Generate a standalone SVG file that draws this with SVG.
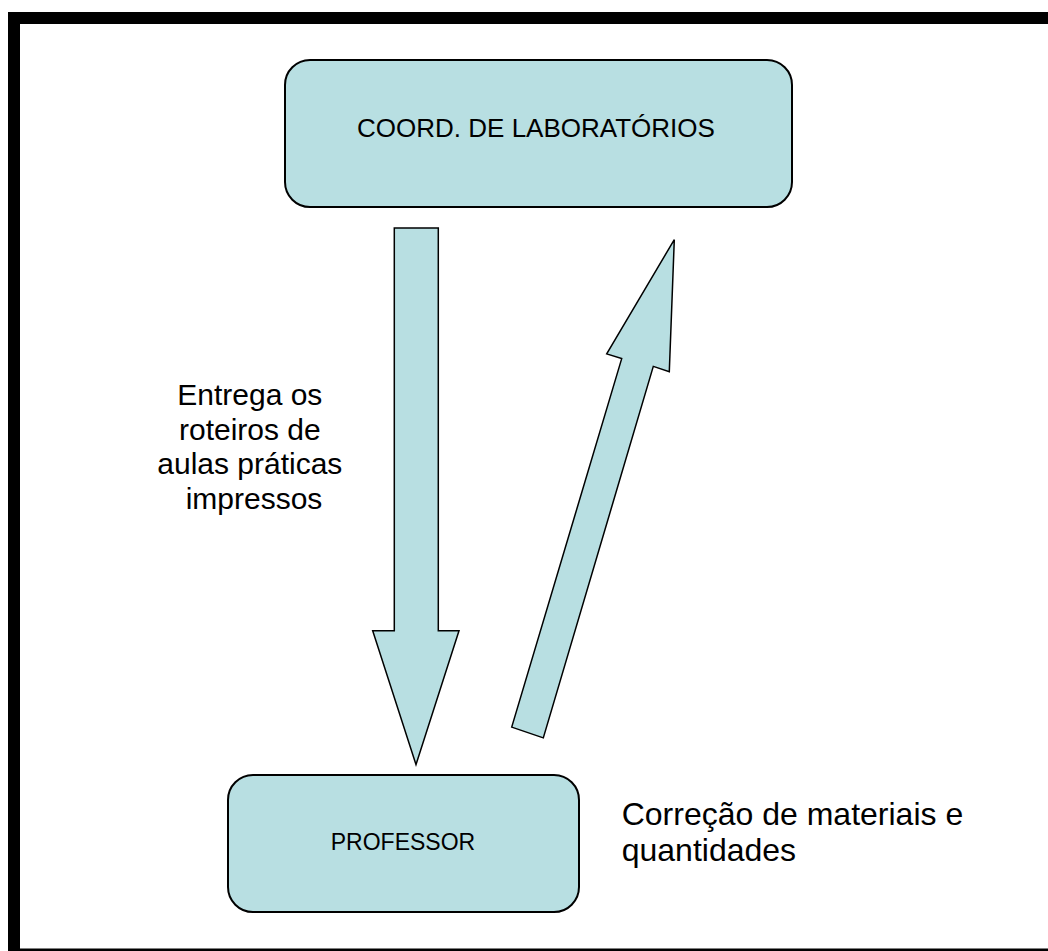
<svg xmlns="http://www.w3.org/2000/svg" width="1048" height="951" viewBox="0 0 1048 951">
<style>
.box{fill:#B8DFE2;stroke:#000;stroke-width:2}
.arrow{fill:#B8DFE2;stroke:#000;stroke-width:1.5;stroke-linejoin:miter}
text{font-family:"Liberation Sans",Arial,sans-serif;fill:#000}
</style>
<rect x="0" y="0" width="1048" height="951" fill="#fff"/>
<g id="frame">
<rect x="8" y="12" width="1040" height="12" fill="#000"/>
<rect x="8" y="12" width="12" height="939" fill="#000"/>
<rect x="8" y="948.5" width="1040" height="3" fill="#000"/>
</g>
<g id="connectors">
<polygon class="arrow" points="394.3,228 438.3,228 438.3,630.7 459,630.7 416,764.6 372.7,630.7 394.3,630.7"/>
<polygon class="arrow" points="511.7,727.1 621.7,358.6 606.7,353.9 674.3,239.6 669.3,371.8 653.3,366.4 543.3,737.9"/>
</g>
<g id="coord">
<rect class="box" x="285" y="60" width="507" height="147" rx="25" ry="25"/>
<text x="536" y="137" font-size="26" text-anchor="middle">COORD. DE LABORATÓRIOS</text>
</g>
<g id="professor">
<rect class="box" x="228" y="775" width="351" height="137" rx="25" ry="25"/>
<text x="403" y="850" font-size="23" text-anchor="middle">PROFESSOR</text>
</g>
<g id="label-entrega">
<text font-size="30" text-anchor="middle">
<tspan x="254" y="405">Entrega os</tspan>
<tspan x="254" y="439.5">roteiros de</tspan>
<tspan x="254" y="474">aulas práticas</tspan>
<tspan x="254" y="508.5">impressos</tspan>
</text>
</g>
<g id="label-correcao">
<text font-size="32">
<tspan x="621.7" y="825">Correção de materiais e</tspan>
<tspan x="621.7" y="861">quantidades</tspan>
</text>
</g>
</svg>
